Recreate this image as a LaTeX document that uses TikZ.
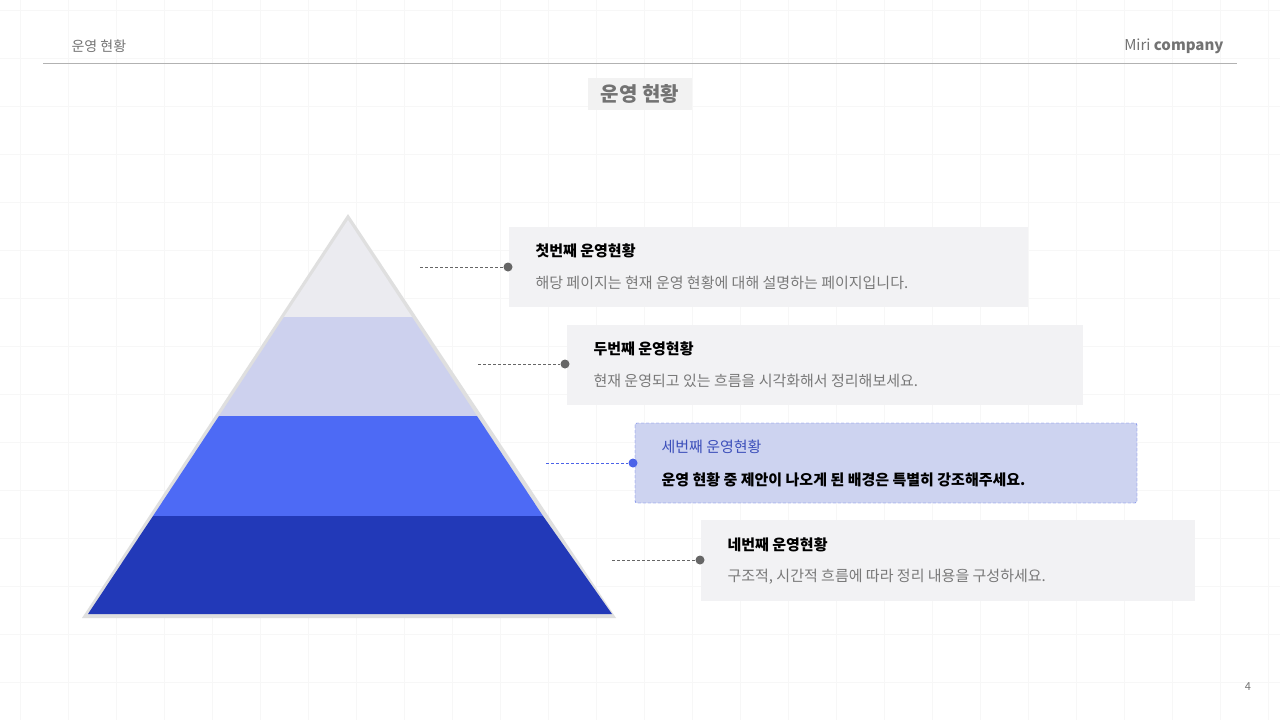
\documentclass[tikz,border=0pt]{standalone}
\usepackage{fontspec}
\setmainfont{Noto Sans CJK KR}
\begin{document}
\begin{tikzpicture}[x=1pt,y=-1pt,
  box/.style={fill=boxg,draw=none},
  ttl/.style={anchor=west,font=\fontsize{15}{18}\selectfont\bfseries,text=black},
  txt/.style={anchor=west,font=\fontsize{15}{18}\selectfont,text=gray!95!black},
  dot/.style={circle,fill=gray!80!black,inner sep=0pt,minimum size=9pt},
  lead/.style={densely dashed,gray!80!black,line width=0.7pt}]
\definecolor{boxg}{HTML}{F2F2F4}
\definecolor{b1}{HTML}{EBEBF0}
\definecolor{b2}{HTML}{CDD1EE}
\definecolor{b3}{HTML}{4D6AF5}
\definecolor{b4}{HTML}{2239B8}
\definecolor{hb}{HTML}{CDD3F0}
\definecolor{hl}{HTML}{4B63E8}
\useasboundingbox (0,0) rectangle (1280,720);
\fill[white] (0,0) rectangle (1280,720);
\foreach \i in {0,...,26} \draw[gray!6] (\i*48+20,0) -- (\i*48+20,720);
\foreach \j in {0,...,15} \draw[gray!6] (0,\j*48+10) -- (1280,\j*48+10);
% header
\node[anchor=west,font=\fontsize{14}{16}\selectfont,text=gray!90!black] (h1) at (68,46) {운영 현황};
\node[anchor=east,font=\fontsize{15}{17}\selectfont,text=gray!90!black] (h2) at (1227,46) {Miri \textbf{company}};
\draw[gray!60] (43,63) -- (1237,63);
\node[fill=gray!10,font=\fontsize{20}{24}\selectfont\bfseries,text=gray!90!black,minimum width=104pt,minimum height=32pt] (t) at (640,94) {운영 현황};
\node[font=\fontsize{11}{13}\selectfont,text=gray!90!black] (pg) at (1248,687) {4};
% pyramid
\fill[gray!25] (348,214) -- (82,618) -- (616,618) -- cycle;
\fill[b1] (348,220) -- (284,317) -- (412,317) -- cycle;
\fill[b2] (284,317) -- (219,416) -- (477,416) -- (412,317) -- cycle;
\fill[b3] (219,416) -- (153,516) -- (543,516) -- (477,416) -- cycle;
\fill[b4] (153,516) -- (88,614) -- (612,614) -- (543,516) -- cycle;
% boxes
\fill[box] (509,227) rectangle (1028,307);
\node[ttl] (a1) at (532,251) {첫번째 운영현황};
\node[txt] (a2) at (532,283) {해당 페이지는 현재 운영 현황에 대해 설명하는 페이지입니다.};
\node[dot] (d1) at (508,267) {}; \coordinate (c1) at (420,267);
\draw[lead] (c1) -- (d1);
\fill[box] (567,325) rectangle (1083,405);
\node[ttl] (b1t) at (590,349) {두번째 운영현황};
\node[txt] (b2t) at (590,381) {현재 운영되고 있는 흐름을 시각화해서 정리해보세요.};
\node[dot] (d2) at (565,364) {}; \coordinate (c2) at (478,364);
\draw[lead] (c2) -- (d2);
\draw[fill=hb,draw=hl,densely dashed,rounded corners=2pt] (635,423) rectangle (1137,503);
\node[ttl,text=hl!80!black,font=\fontsize{15}{18}\selectfont] (c3t) at (658,447) {세번째 운영현황};
\node[ttl] (c3b) at (658,480) {운영 현황 중 제안이 나오게 된 배경은 특별히 강조해주세요.};
\node[dot,fill=hl] (d3) at (633,463) {}; \coordinate (c3) at (546,463);
\draw[lead,hl] (c3) -- (d3);
\fill[box] (701,520) rectangle (1195,601);
\node[ttl] (d4t) at (724,545) {네번째 운영현황};
\node[txt] (d4b) at (724,577) {구조적, 시간적 흐름에 따라 정리 내용을 구성하세요.};
\node[dot] (d4) at (700,560) {}; \coordinate (c4) at (612,560);
\draw[lead] (c4) -- (d4);
\end{tikzpicture}
\end{document}
